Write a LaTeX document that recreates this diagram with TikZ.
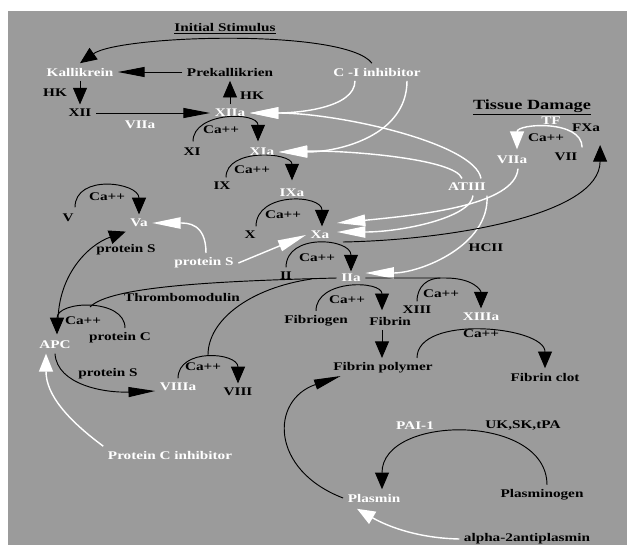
\documentclass[tikz,border=0pt]{standalone}
\usepackage{fontspec}
\setmainfont[FakeStretch=1.3]{Liberation Serif}
\usetikzlibrary{arrows.meta,calc}
\definecolor{bgray}{RGB}{155,155,155}

\begin{document}
\begin{tikzpicture}[x=0.03cm,y=-0.03cm,
  lbl/.style={font=\fontsize{10}{12}\selectfont\bfseries,inner sep=1pt,outer sep=3pt,text=black},
  wlbl/.style={lbl,text=white},
  blk/.style={draw=black,line width=0.8pt},
  wht/.style={draw=white,line width=1.2pt},
  hb/.style={blk,-{Triangle[length=8mm,width=3mm]}},
  vb/.style={blk,-{Triangle[length=5mm,width=4.2mm]}},
  hw/.style={wht,-{Triangle[length=8.5mm,width=3.4mm]}},
  vw/.style={wht,-{Triangle[length=5.4mm,width=4.2mm]}}]
\fill[white] (0,0) rectangle (632,545);
\fill[bgray] (8,11) rectangle (627,545);

\node[lbl] (stim) at (225,29) {\underline{Initial Stimulus}};
\node[wlbl] (kal) at (80,72) {Kallikrein};
\node[lbl] (prekal) at (230,72) {Prekallikrien};
\node[wlbl] (cinh) at (377,72) {C -I inhibitor};
\node[lbl] (hkA) at (55,93) {HK};
\node[lbl] (xii) at (80,113) {XII};
\node[lbl] (hkB) at (252,96) {HK};
\node[wlbl] (xiia) at (230,113) {XIIa};
\node[wlbl] (viiaA) at (140,125) {VIIa};
\node[lbl] (caXI) at (221,130) {Ca++};
\node[lbl] (xi) at (192,152) {XI};
\node[wlbl] (xia) at (262,152) {XIa};
\node[lbl] (caIX) at (252,170) {Ca++};
\node[lbl] (ix) at (222,186) {IX};
\node[wlbl] (ixa) at (292,193) {IXa};
\node[lbl,font=\fontsize{12}{14}\selectfont\bfseries] (tissue) at (532,107) {\underline{Tissue Damage}};
\node[wlbl] (tf) at (551,121) {TF};
\node[lbl] (fxa) at (586,128) {FXa};
\node[lbl] (caTF) at (546,138) {Ca++};
\node[wlbl] (viiaB) at (512,160) {VIIa};
\node[lbl] (vii) at (566,157) {VII};
\node[wlbl] (atiii) at (467,187) {ATIII};
\node[lbl] (caV) at (107,197) {Ca++};
\node[lbl] (v) at (68,218) {V};
\node[wlbl] (va) at (139,223) {Va};
\node[lbl] (caX) at (283,215) {Ca++};
\node[lbl] (x) at (250,235) {X};
\node[wlbl] (xa) at (320,235) {Xa};
\node[lbl] (protSa) at (126,250) {protein S};
\node[wlbl] (protSb) at (204,263) {protein S};
\node[lbl] (hcii) at (486,248) {HCII};
\node[lbl] (caII) at (317,258) {Ca++};
\node[lbl] (ii) at (286,276) {II};
\node[wlbl] (iia) at (351,278) {IIa};
\node[lbl] (thrombo) at (182,298) {Thrombomodulin};
\node[lbl] (caFib) at (347,300) {Ca++};
\node[lbl] (caXIII) at (441,294) {Ca++};
\node[lbl] (xiii) at (417,310) {XIII};
\node[wlbl] (xiiia) at (481,317) {XIIIa};
\node[lbl] (caAPC) at (83,321) {Ca++};
\node[lbl] (fibgen) at (316,321) {Fibriogen};
\node[lbl] (fibrin) at (390,321) {Fibrin};
\node[lbl] (caClot) at (481,334) {Ca++};
\node[lbl] (protC) at (120,338) {protein C};
\node[wlbl] (apc) at (55,345) {APC};
\node[lbl] (caVIII) at (203,367) {Ca++};
\node[lbl] (fibpoly) at (383,368) {Fibrin polymer};
\node[lbl] (protSc) at (108,374) {protein S};
\node[lbl] (fibclot) at (545,377) {Fibrin clot};
\node[wlbl] (viiia) at (178,387) {VIIIa};
\node[lbl] (viii) at (238,392) {VIII};
\node[wlbl] (pcinh) at (170,455) {Protein C inhibitor};
\node[wlbl] (pai) at (415,426) {PAI-1};
\node[lbl] (uksk) at (523,426) {UK,SK,tPA};
\node[wlbl] (plasmin) at (374,498) {Plasmin};
\node[lbl] (plasminogen) at (542,495) {Plasminogen};
\node[lbl] (alpha) at (527,539) {alpha-2antiplasmin};

\coordinate (j13) at ($(iia.east)+(80,0)$);
\coordinate (j8) at ($(iia.west)+(-25,1)$);
\coordinate (tmj) at (90,307);
\coordinate (v8j) at (208,355);

\draw[vb] ($(cinh.north)+(-5,0)$) .. controls (345,28) and (120,35) .. (kal.north);
\draw[hb] (prekal) -- (kal);
\draw[vb] (kal) -- (xii);
\draw[hb] (xii) -- (xiia);
\draw[vb] (xiia) -- (prekal);

\draw[hw] ($(cinh.south)+(-22,0)$) .. controls +(0,28) and +(45,0) .. (xiia.east);
\draw[hw] ($(cinh.south)+(30,0)$) .. controls +(0,55) and +(60,0) .. (xia.east);
\draw[hw] ($(atiii.north)+(14,0)$) .. controls +(-6,-35) and +(90,0) .. (xiia.east);
\draw[hw] ($(atiii.north)+(-5,0)$) .. controls +(-7,-20) and +(65,-2) .. (xia.east);
\draw[hw] ($(atiii.south)+(6,0)$) .. controls +(-2,22) and +(65,0) .. ($(xa.east)+(3,-3)$);
\draw[hw] ($(atiii.south)+(20,0)$) .. controls +(3,50) and +(55,0) .. ($(iia.east)+(0,-5)$);
\draw[hw] ($(viiaB.south)+(6,0)$) .. controls +(-3,37) and +(82,-8) .. ($(xa.east)+(3,-12)$);
\draw[vw] ($(vii.north east)+(0,-1)$) .. controls +(0,-28) and +(0,-26) .. ($(viiaB.north)+(5,-2)$);
\draw[vb] ($(xa.east)+(9,7)$) .. controls (450,240) and (600,215) .. ($(vii.east)+(18,-12)$);

\draw[vb] ($(xi.north)+(1,-2)$) .. controls +(0,-30) and +(0,-30) .. ($(xia.north)+(-4,-2)$);
\draw[vb] ($(ix.north)+(4,0)$) .. controls +(0,-30) and +(0,-28) .. ($(ixa.north)+(0,-4)$);
\draw[vb] ($(x.north)+(6,0)$) .. controls +(0,-35) and +(0,-32) .. ($(xa.north)+(2,0)$);
\draw[vb] (ii.north) .. controls +(0,-35) and +(0,-33) .. ($(iia.north)+(0,2)$);
\draw[vb] ($(v.north)+(7,-2)$) .. controls +(0,-34) and +(0,-32) .. (va.north);
\draw[vb] (fibgen.north) .. controls +(0,-32) and +(0,-30) .. ($(fibrin.north)+(-8,-2)$);
\draw[vb] (iia.east) -- (j13) .. controls +(28,0) and +(0,-18) .. (xiiia.north);
\draw[blk] (xiii.north) .. controls +(0,-16) and +(-12,0) .. ($(j13)+(-5,0)$);
\draw[vb] ($(fibpoly.north)+(34,0)$) .. controls +(0,-44) and +(0,-42) .. (fibclot.north);
\draw[vb] ($(fibrin.south)+(-8,0)$) -- ($(fibpoly.north)+(-1,0)$);

\draw[blk] (iia.west) .. controls (220,281) and (110,286) .. (tmj);
\draw[blk] (j8) .. controls (250,288) and (208,320) .. (v8j);
\draw[vb] ($(protC.north)+(5,0)$) .. controls +(0,-30) and +(0,-34) .. ($(apc.north)+(2,-2)$);
\draw[vb] (viiia.north) .. controls +(0,-31) and +(0,-31) .. (viii.north);
\draw[vb] ($(apc.north)+(3,-14)$) .. controls (58,275) and (88,245) .. (va.south west);
\draw[hb] (apc.south) .. controls (57,385) and (105,393) .. ($(viiia.west)+(0,4)$);
\draw[vw] (pcinh.north west) .. controls (68,420) and (46,395) .. ($(apc.south)+(-9,0)$);
\draw[hw] ($(protSb.north)+(2,0)$) .. controls +(0,-30) and +(35,0) .. (va.east);
\draw[hw] (protSb.east) -- (xa.west);

\draw[hb] (plasmin.west) .. controls (270,470) and (270,400) .. ($(fibpoly.south west)+(12,-2)$);
\draw[vb] ($(plasminogen.north)+(5,0)$) .. controls +(0,-72) and +(0,-75) .. ($(plasmin.north)+(8,0)$);
\draw[vw] (alpha.west) .. controls (415,538) and (385,525) .. ($(plasmin.south west)+(14,2)$);
\end{tikzpicture}
\end{document}
